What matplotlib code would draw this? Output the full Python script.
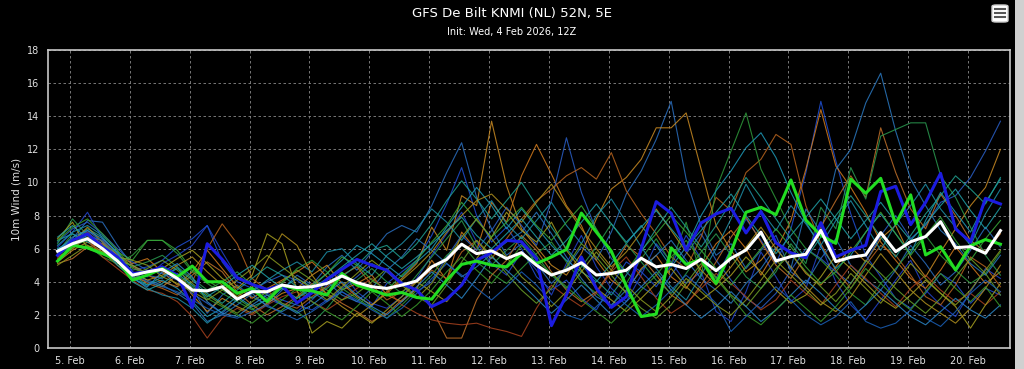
import matplotlib
matplotlib.use("Agg")
import matplotlib.pyplot as plt
import matplotlib.dates as mdates
from matplotlib.patches import Rectangle, FancyBboxPatch
import pandas as pd

# 6-hourly steps, local time (init 4 Feb 12Z + 6h)
times = pd.date_range("2026-02-04 19:00", periods=64, freq="6h")

mean = [5.85, 6.3, 6.6, 6.0, 5.25, 4.4, 4.6, 4.75,
        4.2, 3.5, 3.45, 3.7, 2.95, 3.4, 3.4, 3.8,
        3.65, 3.7, 3.9, 4.35, 3.95, 3.7, 3.6, 3.8,
        4.05, 4.9, 5.35, 6.27, 5.7, 5.87, 5.4, 5.76,
        5.0, 4.41, 4.7, 5.15, 4.41, 4.5, 4.7, 5.42,
        4.9, 5.05, 4.8, 5.36, 4.67, 5.42, 5.92, 7.0,
        5.26, 5.52, 5.66, 7.1, 5.22, 5.48, 5.62, 6.97,
        5.82, 6.42, 6.73, 7.63, 6.06, 6.12, 5.72, 7.09]

control = [5.6, 6.5, 6.9, 6.1, 5.5, 4.5, 4.6, 4.9,
           4.4, 2.45, 6.3, 5.35, 4.24, 3.84, 3.54, 3.8,
           2.73, 3.33, 4.14, 4.75, 5.35, 5.0, 4.7, 3.87,
           3.5, 2.5, 2.94, 3.8, 5.3, 5.76, 6.5, 6.42,
           5.4, 1.35, 3.2, 5.5, 3.6, 2.45, 3.1, 6.0,
           8.84, 8.14, 5.9, 7.55, 8.1, 8.44, 6.95, 8.24,
           6.35, 5.75, 5.45, 7.57, 5.5, 5.9, 6.2, 9.45,
           9.77, 7.45, 8.8, 10.55, 7.2, 6.4, 9.04, 8.7]

oper = [5.25, 6.2, 6.05, 5.7, 5.3, 4.1, 4.4, 4.8,
        4.3, 4.95, 4.0, 4.0, 3.3, 3.6, 2.8, 3.8,
        3.55, 3.45, 3.2, 4.5, 3.8, 3.5, 3.2, 3.35,
        3.05, 2.95, 4.1, 5.05, 5.25, 5.0, 4.9, 5.7,
        5.1, 5.5, 5.95, 8.15, 7.0, 5.85, 3.75, 1.9,
        2.05, 6.05, 5.05, 5.35, 3.9, 5.8, 8.2, 8.5,
        8.05, 10.15, 7.73, 6.8, 6.32, 10.2, 9.35, 10.25,
        7.5, 9.25, 5.62, 6.12, 4.71, 6.17, 6.55, 6.27]

member_colors = ["#2244cc", "#2a6fc0", "#1f50d6", "#c98a22", "#d27a1c", "#2a5fc8",
                 "#b8641e", "#2e9a3a", "#1e9ab8", "#2a78c0", "#c0702a", "#2a9a50",
                 "#a8421e", "#a8a020", "#1e8fa8", "#38a838", "#6aa028", "#20a090",
                 "#b0901e", "#2a86c8", "#3a9a2a", "#1a60b8", "#8a9a20", "#20a0a8"]

members = [
    [6.1, 7.0, 8.2, 6.6, 5.7, 4.6, 4.3, 5.1, 5.6, 6.2, 7.4, 5.8, 4.3, 3.9, 3.0, 2.6,
     2.2, 2.9, 3.8, 4.6, 3.4, 2.7, 2.4, 3.1, 4.2, 5.6, 6.9, 8.2, 6.4, 5.1, 4.4, 5.8,
     4.7, 3.2, 5.1, 6.8, 4.9, 3.6, 2.8, 4.4, 6.3, 5.2, 3.9, 4.6, 2.2, 1.6, 3.4, 5.8,
     4.3, 2.8, 3.6, 6.2, 4.0, 2.6, 1.7, 2.9, 4.1, 5.3, 3.5, 2.6, 1.9, 3.4, 4.8, 4.2],
    [5.9, 6.6, 7.7, 7.6, 6.2, 5.0, 4.4, 4.2, 4.9, 3.6, 2.1, 3.2, 3.8, 3.1, 2.6, 3.5,
     4.4, 3.8, 4.9, 5.6, 4.7, 5.8, 6.9, 7.4, 7.0, 8.6, 10.6, 12.4, 9.1, 7.2, 5.6, 6.3,
     5.1, 3.9, 4.8, 6.1, 5.3, 7.0, 9.3, 10.7, 12.6, 14.9, 10.2, 7.4, 5.6, 6.3, 4.8, 5.9,
     6.8, 4.6, 3.9, 5.4, 6.6, 5.0, 4.1, 3.5, 4.7, 6.2, 5.1, 3.8, 4.6, 5.9, 7.3, 6.1],
    [5.6, 6.2, 6.9, 6.3, 5.4, 4.7, 4.9, 5.3, 6.1, 6.6, 7.4, 5.2, 4.0, 3.6, 3.3, 2.9,
     2.6, 2.3, 2.9, 3.4, 2.8, 2.5, 3.9, 4.6, 5.3, 6.8, 8.7, 10.9, 8.0, 6.4, 7.3, 6.0,
     4.3, 3.5, 4.1, 3.0, 2.3, 3.8, 5.2, 4.6, 3.7, 5.0, 6.8, 5.4, 4.2, 6.0, 7.8, 6.5,
     5.1, 7.2, 10.6, 14.9, 11.3, 8.1, 5.6, 4.3, 3.0, 2.4, 3.3, 4.5, 3.9, 2.7, 3.6, 3.2],
    [5.2, 5.9, 6.4, 5.8, 5.0, 4.3, 4.0, 3.7, 4.4, 3.2, 2.2, 3.0, 2.5, 2.1, 2.7, 3.3,
     3.6, 4.4, 5.0, 3.9, 3.1, 2.6, 3.4, 4.2, 5.1, 7.3, 5.9, 9.2, 8.6, 13.7, 9.8, 7.2,
     6.1, 5.0, 4.4, 5.7, 7.8, 9.6, 10.3, 11.4, 13.3, 13.3, 14.2, 10.8, 7.4, 5.9, 4.6, 5.3,
     6.4, 5.7, 4.5, 3.8, 4.9, 6.1, 5.2, 6.6, 7.4, 5.5, 4.3, 5.8, 7.2, 8.6, 9.7, 12.0],
    [5.5, 6.0, 6.7, 6.5, 5.6, 5.1, 5.4, 4.6, 3.8, 4.6, 5.9, 4.8, 3.7, 3.0, 3.6, 4.1,
     4.6, 5.2, 4.3, 3.5, 3.9, 4.4, 3.2, 2.8, 3.6, 5.3, 4.1, 7.0, 5.9, 8.8, 7.6, 10.4,
     12.3, 10.5, 8.6, 7.4, 5.3, 4.1, 3.4, 4.8, 5.6, 4.3, 3.6, 4.9, 6.3, 7.1, 6.0, 4.4,
     5.9, 7.7, 10.8, 14.4, 11.0, 9.7, 8.2, 6.4, 5.3, 4.2, 3.6, 4.7, 6.1, 5.0, 3.9, 4.6],
    [6.4, 7.2, 7.6, 6.9, 6.0, 5.2, 4.7, 4.5, 4.1, 3.3, 2.7, 2.1, 2.9, 3.5, 4.0, 4.4,
     4.1, 3.4, 2.8, 3.6, 4.3, 5.1, 4.6, 4.0, 3.4, 4.0, 5.5, 6.8, 5.9, 7.1, 8.5, 7.4,
     6.2, 8.9, 12.7, 9.4, 7.1, 5.4, 4.6, 3.7, 3.1, 4.4, 5.7, 6.9, 5.3, 4.1, 3.0, 2.4,
     3.3, 4.7, 6.0, 5.4, 4.6, 3.9, 5.2, 6.8, 8.0, 6.6, 7.4, 8.8, 9.2, 10.3, 11.9, 13.7],
    [5.7, 6.3, 7.0, 6.2, 5.3, 4.5, 3.9, 3.6, 3.2, 4.0, 6.0, 7.5, 6.3, 4.2, 3.5, 2.7,
     2.4, 3.1, 3.7, 4.4, 4.9, 3.8, 2.9, 3.4, 4.0, 4.7, 4.2, 5.8, 6.5, 5.4, 6.6, 7.8,
     8.9, 9.6, 10.4, 10.9, 10.2, 11.8, 9.5, 8.1, 6.9, 5.5, 4.8, 6.7, 9.1, 8.3, 10.6, 11.4,
     12.9, 12.3, 8.6, 6.3, 4.7, 3.6, 5.0, 6.2, 5.6, 4.4, 3.1, 2.6, 3.8, 5.5, 4.9, 3.7],
    [5.8, 6.9, 6.2, 5.5, 5.1, 5.6, 6.5, 6.5, 5.7, 4.6, 3.9, 3.3, 2.8, 2.3, 3.0, 3.9,
     4.8, 5.3, 4.6, 3.6, 3.0, 2.4, 1.8, 2.6, 3.5, 4.4, 5.6, 6.3, 5.2, 4.5, 3.9, 4.8,
     5.7, 6.4, 5.2, 4.0, 3.3, 2.5, 3.9, 5.4, 6.6, 5.1, 7.6, 4.3, 9.6, 11.9, 14.2, 10.8,
     9.0, 7.2, 6.0, 5.3, 4.4, 3.3, 2.6, 3.9, 4.8, 5.9, 6.8, 5.6, 4.7, 3.9, 4.5, 5.8],
    [6.5, 6.9, 6.4, 6.1, 5.0, 4.2, 3.8, 4.1, 3.6, 2.8, 1.9, 2.4, 3.1, 2.5, 2.9, 3.6,
     4.2, 3.7, 4.5, 5.3, 6.2, 5.7, 5.0, 4.3, 5.2, 6.0, 7.3, 8.5, 9.7, 8.6, 7.2, 8.4,
     7.3, 6.2, 5.3, 4.6, 4.0, 5.1, 6.3, 7.4, 6.2, 4.9, 6.1, 8.0, 9.5, 10.7, 12.1, 13.0,
     11.5, 9.4, 7.6, 6.1, 4.8, 5.6, 7.0, 8.1, 6.9, 5.7, 7.7, 9.4, 8.2, 7.0, 8.8, 10.2],
    [6.0, 6.4, 7.1, 6.4, 5.5, 4.6, 4.1, 3.8, 3.3, 2.7, 1.6, 2.0, 2.6, 3.3, 2.5, 2.2,
     2.7, 3.5, 4.0, 3.2, 2.8, 3.6, 4.7, 5.5, 6.6, 5.9, 5.1, 4.3, 4.9, 5.7, 6.4, 7.0,
     8.2, 6.9, 5.5, 4.2, 3.1, 2.6, 3.5, 4.7, 5.6, 6.5, 5.3, 4.2, 3.5, 2.7, 3.9, 4.8,
     6.1, 4.8, 8.4, 7.0, 10.8, 12.0, 14.8, 16.6, 13.1, 10.2, 8.6, 7.1, 6.3, 5.1, 4.4, 5.6],
    [5.1, 5.4, 6.1, 6.3, 5.6, 4.9, 4.4, 4.0, 3.7, 4.4, 5.2, 4.6, 3.4, 2.6, 2.0, 2.5,
     3.1, 3.9, 3.3, 2.7, 2.2, 1.6, 2.1, 2.9, 3.6, 2.4, 0.6, 0.6, 2.9, 4.4, 5.3, 6.8,
     5.9, 4.6, 3.5, 2.8, 3.4, 4.7, 6.2, 5.5, 4.4, 3.2, 2.6, 3.8, 5.2, 6.7, 7.9, 6.4,
     5.0, 4.2, 5.6, 7.3, 8.9, 10.4, 9.1, 13.3, 10.6, 8.4, 7.2, 9.3, 8.0, 6.5, 5.8, 6.9],
    [6.3, 7.8, 6.8, 6.0, 5.4, 4.9, 5.2, 5.6, 4.9, 4.2, 3.5, 4.0, 4.6, 3.8, 3.2, 2.7,
     2.2, 1.5, 2.4, 3.5, 4.1, 4.8, 4.0, 3.3, 4.4, 5.5, 6.6, 7.7, 6.1, 5.0, 5.9, 6.7,
     5.6, 4.4, 3.6, 4.9, 6.1, 7.5, 6.3, 5.2, 4.1, 3.3, 4.5, 5.8, 6.9, 5.6, 4.3, 3.6,
     4.6, 6.3, 5.1, 8.5, 7.2, 10.9, 9.0, 12.8, 13.2, 13.6, 13.6, 10.4, 9.1, 7.3, 5.6, 4.4],
    [5.4, 6.1, 6.6, 5.5, 4.8, 4.1, 3.5, 3.3, 2.8, 1.9, 0.6, 1.8, 2.4, 2.0, 2.6, 3.1,
     3.4, 2.8, 2.3, 2.9, 3.6, 4.2, 3.5, 2.6, 2.1, 1.7, 1.5, 1.4, 1.5, 1.2, 1.0, 0.7,
     2.4, 3.8, 3.1, 2.5, 3.3, 4.6, 5.5, 4.3, 3.0, 2.1, 2.7, 3.6, 4.5, 3.9, 3.1, 2.3,
     2.9, 4.1, 3.3, 2.6, 3.8, 5.0, 4.2, 3.3, 2.5, 3.6, 4.4, 3.5, 2.8, 3.3, 2.6, 3.4],
    [6.6, 7.6, 6.0, 5.7, 5.3, 5.0, 4.5, 4.8, 5.4, 5.9, 5.1, 4.2, 3.6, 4.4, 6.9, 6.3,
     3.5, 0.9, 1.6, 1.2, 2.1, 1.5, 2.3, 3.1, 4.0, 3.4, 2.8, 3.9, 5.4, 6.7, 8.2, 7.1,
     6.4, 7.6, 5.9, 4.7, 3.6, 2.9, 2.2, 3.0, 3.9, 4.8, 3.7, 2.9, 3.6, 4.4, 5.5, 4.6,
     3.5, 2.7, 3.2, 4.3, 5.6, 4.8, 3.9, 3.0, 2.4, 3.2, 4.1, 3.3, 2.5, 1.2, 2.6, 3.9],
    [6.2, 7.0, 7.4, 6.8, 5.9, 4.3, 3.6, 3.2, 3.0, 2.4, 1.5, 2.2, 2.9, 3.4, 4.1, 4.7,
     5.2, 4.6, 5.8, 6.0, 5.1, 4.4, 5.6, 6.3, 7.2, 8.4, 7.6, 6.5, 7.8, 8.9, 7.5, 6.6,
     7.7, 8.8, 7.4, 6.3, 8.0, 9.0, 7.6, 6.1, 4.8, 3.7, 2.9, 4.4, 6.0, 7.8, 9.9, 8.3,
     7.1, 8.6, 7.5, 6.2, 7.7, 8.9, 7.4, 5.9, 7.5, 8.6, 9.9, 8.4, 7.3, 6.2, 8.1, 9.6],
    [5.7, 6.2, 6.5, 6.2, 5.8, 5.3, 6.5, 6.5, 5.9, 4.7, 4.1, 3.5, 3.0, 2.4, 1.6, 2.3,
     3.0, 3.8, 4.5, 5.5, 5.0, 4.1, 3.5, 4.4, 5.3, 6.4, 7.4, 8.8, 7.7, 6.7, 7.6, 8.5,
     7.4, 6.5, 7.6, 8.6, 7.2, 5.7, 4.6, 5.9, 6.9, 8.0, 7.0, 5.9, 4.8, 3.8, 4.9, 6.0,
     7.2, 6.1, 4.9, 3.9, 4.6, 5.8, 7.0, 8.2, 6.9, 5.6, 6.8, 7.9, 6.5, 5.3, 6.6, 7.7],
    [5.3, 6.0, 6.9, 5.9, 5.2, 4.4, 4.8, 5.3, 4.7, 3.9, 3.2, 2.6, 2.1, 2.8, 3.4, 4.0,
     4.7, 4.1, 3.5, 2.9, 3.3, 4.0, 4.8, 3.9, 3.1, 2.6, 3.8, 5.2, 6.5, 5.6, 4.5, 3.5,
     2.7, 3.6, 4.9, 6.3, 5.5, 4.4, 3.3, 2.4, 1.8, 2.6, 3.9, 5.1, 4.3, 3.2, 2.5, 3.6,
     4.8, 5.7, 4.6, 3.7, 2.8, 3.9, 5.3, 4.5, 3.6, 2.8, 2.1, 3.0, 4.3, 5.4, 4.5, 3.2],
    [6.0, 6.5, 7.2, 6.7, 5.7, 4.4, 3.8, 4.3, 4.8, 4.1, 3.3, 2.7, 3.5, 4.2, 4.9, 4.4,
     3.7, 3.0, 3.6, 4.3, 5.0, 5.9, 6.2, 5.4, 6.3, 7.5, 8.9, 10.1, 9.0, 7.8, 8.9, 10.0,
     8.6, 7.3, 6.0, 5.0, 4.1, 3.2, 4.4, 5.8, 7.2, 8.5, 7.3, 6.1, 7.4, 8.8, 10.3, 9.1,
     7.8, 6.6, 5.4, 6.7, 8.0, 9.2, 8.0, 6.7, 5.5, 6.8, 8.1, 9.2, 10.4, 9.6, 8.7, 10.3],
    [5.6, 6.4, 7.3, 6.4, 5.6, 4.5, 4.1, 4.4, 5.0, 5.5, 4.6, 3.8, 3.1, 3.7, 5.3, 6.9,
     6.2, 4.4, 3.2, 2.5, 1.9, 2.6, 3.3, 4.1, 4.9, 5.8, 7.0, 8.0, 8.9, 9.3, 8.4, 7.6,
     8.8, 9.9, 8.5, 7.2, 6.0, 4.9, 5.8, 7.0, 8.4, 7.1, 5.8, 4.7, 3.8, 4.9, 6.1, 7.3,
     6.0, 4.9, 3.7, 2.8, 2.2, 3.1, 4.4, 5.7, 4.6, 3.5, 2.7, 2.1, 1.5, 2.4, 3.6, 5.0],
    [5.9, 6.7, 7.1, 6.6, 5.8, 4.2, 3.7, 4.6, 5.1, 4.3, 2.8, 2.1, 1.9, 2.6, 3.2, 2.6,
     2.1, 2.6, 3.3, 4.0, 3.2, 2.5, 2.0, 2.8, 3.7, 4.6, 3.8, 3.0, 4.2, 5.5, 4.7, 3.9,
     3.0, 2.1, 2.9, 3.8, 2.9, 2.0, 2.8, 3.7, 4.6, 3.5, 2.6, 1.8, 2.5, 3.4, 2.5, 1.6,
     2.3, 3.2, 4.1, 3.3, 2.4, 1.8, 2.6, 3.5, 2.7, 1.9, 1.4, 2.2, 3.0, 2.3, 1.8, 2.6],
    [6.5, 7.3, 7.8, 6.9, 5.9, 4.8, 4.5, 4.9, 4.4, 3.7, 3.0, 2.5, 2.0, 1.5, 2.2, 2.9,
     3.6, 2.8, 2.2, 1.7, 2.5, 3.4, 2.7, 1.9, 2.6, 3.5, 4.6, 5.5, 4.7, 3.9, 5.0, 6.2,
     5.3, 4.5, 3.7, 2.9, 2.2, 1.5, 2.4, 3.5, 4.4, 5.5, 6.5, 5.3, 4.2, 3.1, 2.0, 1.4,
     2.3, 3.2, 2.4, 1.6, 2.5, 3.6, 4.8, 3.9, 3.0, 2.3, 3.4, 4.5, 3.6, 2.8, 3.7, 2.5],
    [5.8, 6.3, 6.8, 6.5, 5.5, 4.5, 4.0, 3.7, 3.4, 2.9, 2.4, 2.0, 1.8, 2.2, 2.6, 2.1,
     1.7, 2.2, 2.8, 3.4, 2.9, 2.3, 1.8, 2.4, 3.3, 4.2, 5.1, 4.4, 3.6, 2.9, 3.7, 4.6,
     3.8, 2.8, 2.0, 1.7, 2.5, 3.4, 2.6, 1.9, 2.6, 3.5, 4.4, 3.6, 2.7, 1.0, 1.9, 2.8,
     3.7, 2.9, 2.0, 1.4, 1.9, 2.8, 1.6, 1.2, 1.5, 2.3, 1.8, 1.3, 2.2, 3.3, 4.1, 3.4],
    [5.0, 5.6, 6.2, 5.8, 5.5, 5.3, 5.0, 4.3, 3.9, 3.4, 2.9, 3.5, 4.1, 4.8, 5.6, 4.9,
     4.2, 3.6, 2.9, 3.7, 4.5, 5.3, 4.6, 3.8, 3.0, 3.9, 5.3, 6.7, 7.8, 6.6, 5.5, 4.3,
     3.5, 2.5, 3.4, 4.6, 5.8, 4.7, 3.8, 2.9, 2.2, 3.1, 4.2, 3.4, 2.6, 2.0, 2.9, 4.1,
     5.3, 4.4, 3.5, 2.6, 3.3, 4.5, 3.6, 2.7, 3.9, 5.1, 4.2, 3.3, 2.6, 3.5, 4.7, 5.9],
    [6.7, 7.4, 6.6, 6.1, 5.3, 4.0, 3.5, 3.9, 4.5, 3.8, 3.1, 3.7, 4.4, 5.0, 4.3, 3.6,
     3.0, 3.6, 4.2, 4.9, 5.6, 6.3, 5.5, 4.8, 5.5, 6.3, 7.1, 7.9, 6.8, 6.0, 6.9, 7.8,
     6.7, 5.6, 6.5, 7.6, 8.7, 7.5, 6.4, 7.3, 8.3, 7.2, 6.1, 7.1, 8.2, 9.3, 8.0, 6.8,
     5.7, 6.8, 7.9, 9.0, 7.8, 6.6, 7.7, 8.8, 7.6, 6.5, 7.5, 8.6, 9.6, 8.3, 7.2, 8.5],
]

y_ticks = [0, 2, 4, 6, 8, 10, 12, 14, 16, 18]

fig = plt.figure(figsize=(10.24, 3.69), dpi=100, facecolor="black")
ax = fig.add_axes([48 / 1024, 21 / 369, 962 / 1024, 298 / 369])
ax.set_facecolor("black")

for vals, col in zip(members, member_colors):
    ax.plot(times, vals, color=col, lw=0.8, alpha=0.85, zorder=2)

ax.plot(times, control, color="#1c1ce0", lw=2.2, zorder=4)
ax.plot(times, oper, color="#22dd22", lw=2.2, zorder=5)
ax.plot(times, mean, color="white", lw=2.2, zorder=6)

ax.set_ylim(0, 18)
ax.set_yticks(y_ticks)
ax.set_xlim(pd.Timestamp("2026-02-04 15:10"), pd.Timestamp("2026-02-20 16:50"))
ax.xaxis.set_major_locator(mdates.DayLocator())
ax.xaxis.set_major_formatter(plt.FuncFormatter(lambda v, p: f"{mdates.num2date(v).day}. Feb"))

ax.grid(True, color="#8a8a8a", ls=(0, (3, 3)), lw=0.6, zorder=1)
for s in ax.spines.values():
    s.set_color("#c8c8c8")
    s.set_linewidth(1.2)
ax.tick_params(colors="#e0e0e0", labelsize=7, length=0, pad=6)
for lab in ax.get_xticklabels() + ax.get_yticklabels():
    lab.set_family(["Liberation Sans Narrow", "DejaVu Sans"])

ax.set_ylabel("10m Wind (m/s)", color="#e0e0e0", fontsize=7.5,
              family=["Liberation Sans Narrow", "DejaVu Sans"], labelpad=4)

fig.text(0.5, 1 - 14 / 369, "GFS De Bilt KNMI (NL) 52N, 5E", color="white", fontsize=9.5,
         ha="center", va="center", family=["Liberation Sans Narrow", "DejaVu Sans"])
fig.text(0.5, 1 - 32 / 369, "Init: Wed, 4 Feb 2026, 12Z", color="white", fontsize=7,
         ha="center", va="center", family=["Liberation Sans Narrow", "DejaVu Sans"])

# menu button and scrollbar strip
fig.patches.append(FancyBboxPatch((992 / 1024, 1 - 22 / 369), 16 / 1024, 17 / 369,
                                  boxstyle="round,pad=0,rounding_size=0.004",
                                  transform=fig.transFigure, fc="white", ec="#cccccc"))
for yy in (9, 13, 17):
    fig.add_artist(plt.Line2D([995 / 1024, 1005 / 1024], [1 - yy / 369] * 2,
                              transform=fig.transFigure, color="#555555", lw=1.5))
fig.patches.append(Rectangle((1015 / 1024, 0), 9 / 1024, 1, transform=fig.transFigure,
                             fc="#d0d0d0", ec="none"))

fig.savefig("out.png", dpi=100, facecolor="black")
